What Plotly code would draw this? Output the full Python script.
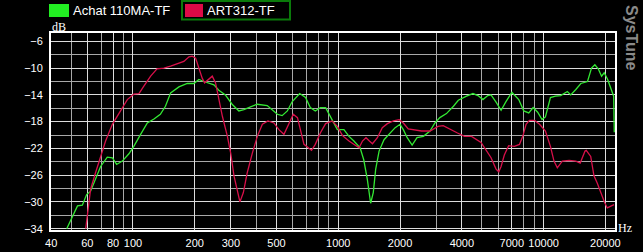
import plotly.graph_objects as go
import numpy as np

# ---- data ----
series_names = ["Achat 110MA-TF", "ART312-TF"]
series_colors = ["#33e833", "#d8104a"]

green_f = [47.6, 50.7, 53.7, 56.7, 59.5, 62.2, 65.8, 69.6, 75, 79.4, 83.3, 88.8, 95.6, 101, 109, 117.5,
           126.6, 136, 144, 152.6, 167.5, 184, 198, 209.6, 221.7, 234, 248, 262, 282, 304, 328, 347,
           367, 403, 451, 476, 505, 533, 565, 597, 649, 693, 731, 773, 818, 868, 915, 952, 990, 1066,
           1128, 1192, 1278, 1331, 1385, 1438, 1481, 1522, 1581, 1671, 1793, 1893, 1999, 2075, 2167,
           2290, 2419, 2599, 2798, 2957, 3125, 3365, 3640, 3844, 4215, 4530, 4790, 5065, 5350, 5550,
           5870, 6210, 6560, 7010, 7570, 8010, 8470, 8900, 9360, 9830, 10210, 10800, 11430, 12110,
           13060, 13560, 14360, 15190, 16370, 17120, 17780, 18460, 19170, 19740, 20520, 21300, 21950,
           22100]
green_db = [-34, -32.1, -30.6, -30.5, -28.9, -28.4, -26.6, -24.7, -23.3, -23.4, -24.4, -23.9, -22.8,
            -21.7, -19.9, -18.2, -17.6, -16.9, -15.7, -13.7, -12.8, -12.3, -12.3, -11.7, -12.0, -12.2,
            -12.5, -13.3, -14.0, -15.4, -16.4, -16.2, -15.9, -15.4, -15.6, -16.2, -16.9, -17.1, -16.4,
            -15.0, -13.8, -14.4, -15.9, -16.4, -15.9, -15.9, -17.3, -18.4, -19.2, -19.2, -20.2, -20.9,
            -21.9, -23.7, -26.6, -30.2, -28.6, -25.1, -22.4, -20.7, -19.7, -18.9, -18.4, -19.2, -20.4,
            -21.5, -20.4, -20.2, -19.4, -18.2, -17.4, -16.8, -15.7, -14.8, -14.2, -13.8, -14.1, -14.7,
            -14.1, -14.0, -15.1, -16.3, -15.0, -13.6, -14.7, -16.4, -16.7, -15.9, -16.6, -17.7, -17.3,
            -14.4, -14.2, -14.1, -13.5, -14.0, -13.2, -12.3, -12.0, -10.0, -9.5, -10.1, -11.2, -10.7,
            -11.7, -13.0, -14.2, -19.6]

red_f = [58.9, 60.4, 62.2, 65.8, 69.6, 73.6, 79.4, 85.5, 93.9, 101, 107, 113, 122, 131, 141.5, 152.6,
         164.5, 177, 187.5, 194.6, 202, 209.6, 217.5, 223.3, 234, 243.5, 252.6, 259.5, 272.7, 288.5,
         299.4, 310.6, 322.5, 332, 345, 360.6, 381.6, 403.5, 427, 454.5, 486, 514, 544, 569, 604, 633,
         656, 681, 708, 741, 773, 818, 868, 934, 990, 1049, 1128, 1192, 1263, 1312, 1365, 1418, 1468,
         1551, 1639, 1735, 1857, 1982, 2075, 2192, 2360, 2546, 2800, 3060, 3245, 3520, 3810, 4120,
         4460, 4960, 5240, 5550, 5870, 6050, 6210, 6440, 6760, 7210, 7630, 7920, 8220, 8530, 9030,
         9560, 10210, 10800, 11240, 11670, 12340, 13330, 14360, 15080, 15920, 16140, 16970, 17600,
         18270, 18950, 19830, 20430, 21190, 22050]
red_db = [-34, -31.1, -28.1, -25.6, -23.4, -20.9, -18.4, -16.7, -14.7, -13.9, -13.8, -12.7, -11.2,
          -10.1, -10.0, -9.7, -9.3, -9.0, -8.3, -8.2, -8.5, -10.0, -11.5, -12.2, -11.6, -11.2, -12.2,
          -14.0, -17.2, -20.2, -22.7, -26.1, -28.6, -30.0, -28.6, -25.6, -22.7, -20.2, -18.4, -17.9,
          -18.2, -19.2, -19.9, -18.7, -16.9, -17.4, -19.2, -21.4, -21.8, -22.3, -21.4, -19.7, -18.3,
          -17.9, -18.7, -20.1, -20.9, -21.4, -21.9, -20.9, -20.4, -20.9, -21.3, -20.4, -18.9, -18.3,
          -17.9, -17.7, -18.2, -19.1, -19.3, -19.4, -19.4, -18.7, -18.6, -19.2, -19.7, -20.2, -20.2,
          -21.1, -22.2, -23.4, -25.1, -25.5, -24.7, -23.0, -21.6, -21.7, -21.4, -20.2, -18.4, -17.8,
          -17.8, -18.4, -19.4, -21.7, -23.9, -24.9, -23.9, -23.8, -23.9, -24.2, -22.4, -22.3, -23.2,
          -26.1, -27.2, -28.6, -30.1, -30.9, -30.6, -30.4]

x_tick_vals = [40, 60, 80, 100, 200, 300, 500, 1000, 2000, 4000, 7000, 10000, 20000]
x_tick_text = ["40", "60", "80", "100", "200", "300", "500", "1000", "2000", "4000", "7000", "10000", "20000"]
x_minor_grid = [50, 70, 90, 400, 600, 700, 800, 900, 3000, 5000, 6000, 8000, 9000]
y_tick_vals = [-34, -30, -26, -22, -18, -14, -10, -6]
y_minor_grid = [-32, -28, -24, -20, -16, -12, -8]

# ---- geometry helpers (pixel -> paper) ----
W, H = 643, 252
ML, MR, MT, MB = 51, 28, 33, 22
PW, PH = W - ML - MR, H - MT - MB


def px(x):
    return (x - ML) / PW


def py(y):
    return (H - MB - y) / PH


fig = go.Figure()
fig.add_trace(go.Scatter(x=green_f, y=green_db, mode="lines", name=series_names[0],
                         line=dict(color=series_colors[0], width=1.3)))
fig.add_trace(go.Scatter(x=red_f, y=red_db, mode="lines", name=series_names[1],
                         line=dict(color=series_colors[1], width=1.3)))

font_axis = dict(family="Liberation Sans, Arial, sans-serif", size=11, color="white")

fig.update_layout(
    width=W, height=H,
    margin=dict(l=ML, r=MR, t=MT, b=MB, pad=0, autoexpand=False),
    paper_bgcolor="black", plot_bgcolor="black",
    showlegend=False,
    xaxis=dict(type="log", range=[np.log10(39.9), np.log10(22280)],
               tickvals=x_tick_vals, ticktext=x_tick_text, tickfont=font_axis,
               showgrid=True, gridcolor="#dcdcdc", gridwidth=1,
               minor=dict(tickvals=x_minor_grid, showgrid=True, gridcolor="#a8a8a8", gridwidth=1, ticks=""),
               showline=True, linecolor="white", linewidth=2, mirror=True, automargin=False,
               ticks="", ticklabelstandoff=2, ticklabeloverflow="allow", zeroline=False),
    yaxis=dict(range=[-34.2, -4.75], tickvals=y_tick_vals, tickfont=font_axis,
               showgrid=True, gridcolor="#dcdcdc", gridwidth=1,
               minor=dict(tickvals=y_minor_grid, showgrid=True, gridcolor="#a8a8a8", gridwidth=1, ticks=""),
               showline=True, linecolor="white", linewidth=2, mirror=True, automargin=False,
               ticks="", ticklabelstandoff=4, ticklabeloverflow="allow", zeroline=False),
)

shapes = []
annotations = []
# legend item 1
shapes.append(dict(type="rect", xref="paper", yref="paper", x0=px(49), x1=px(69), y0=py(17), y1=py(4),
                   fillcolor="#22ee22", line=dict(width=0)))
annotations.append(dict(xref="paper", yref="paper", x=px(71), y=py(10.5), text=series_names[0],
                        showarrow=False, xanchor="left", yanchor="middle",
                        font=dict(family="Liberation Sans, Arial, sans-serif", size=13, color="white")))
# legend item 2 (selected, green frame)
shapes.append(dict(type="rect", xref="paper", yref="paper", x0=px(182), x1=px(290), y0=py(19.5), y1=py(1),
                   fillcolor="black", line=dict(color="#0a7a0a", width=2)))
shapes.append(dict(type="rect", xref="paper", yref="paper", x0=px(185), x1=px(203), y0=py(17), y1=py(4),
                   fillcolor="#dd0a46", line=dict(width=0)))
annotations.append(dict(xref="paper", yref="paper", x=px(205), y=py(10.5), text=series_names[1],
                        showarrow=False, xanchor="left", yanchor="middle",
                        font=dict(family="Liberation Sans, Arial, sans-serif", size=13, color="white")))
# unit labels
annotations.append(dict(xref="paper", yref="paper", x=px(50), y=py(26.5), text="dB",
                        showarrow=False, xanchor="left", yanchor="middle",
                        font=dict(family="Liberation Serif, Times New Roman, serif", size=12, color="white")))
annotations.append(dict(xref="paper", yref="paper", x=px(616), y=py(228), text="Hz",
                        showarrow=False, xanchor="left", yanchor="middle",
                        font=dict(family="Liberation Serif, Times New Roman, serif", size=12, color="white")))
# brand
annotations.append(dict(xref="paper", yref="paper", x=px(631), y=py(38), text="<b>SysTune</b>",
                        showarrow=False, xanchor="center", yanchor="middle", textangle=90,
                        font=dict(family="Liberation Sans, Arial, sans-serif", size=16, color="#8a8a8a")))

fig.update_layout(shapes=shapes, annotations=annotations)
fig.write_html("out.html")
